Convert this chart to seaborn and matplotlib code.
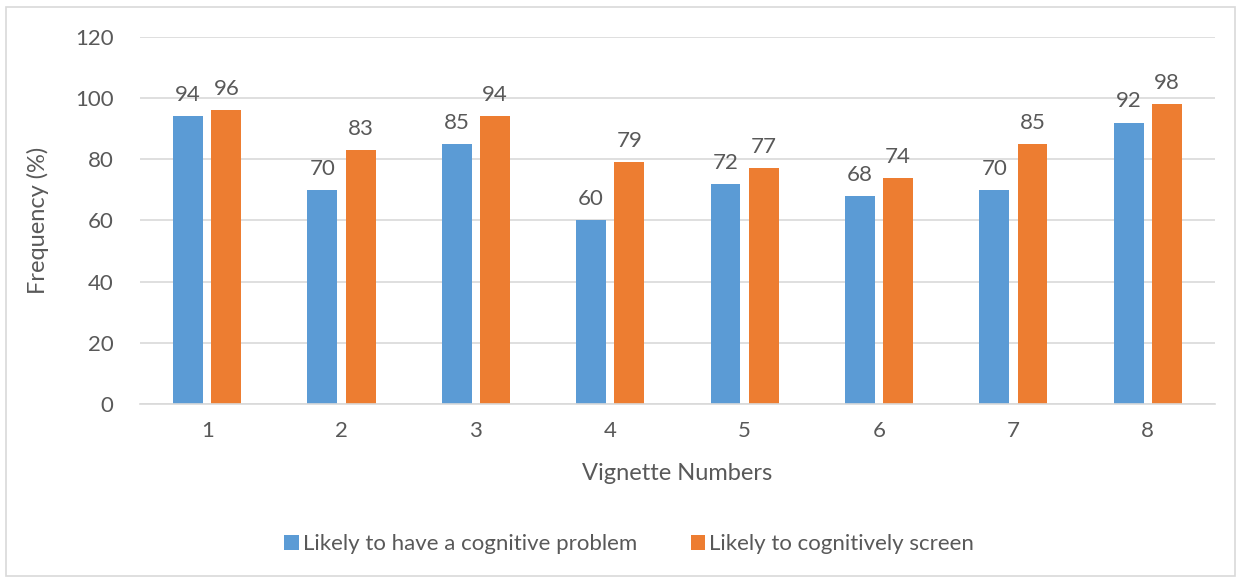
import pandas as pd
import seaborn as sns
import matplotlib.pyplot as plt
from matplotlib.patches import Rectangle

# chart data
vignettes = ['1', '2', '3', '4', '5', '6', '7', '8']
series_names = ['Likely to have a cognitive problem', 'Likely to cognitively screen']
problem = [94, 70, 85, 60, 72, 68, 70, 92]
screen = [96, 83, 94, 79, 77, 74, 85, 98]
colors = ['#5B9BD5', '#ED7D31']
yticks = [0, 20, 40, 60, 80, 100, 120]

text_color = '#595959'

df = pd.DataFrame({
    'Vignette': vignettes * 2,
    'Series': [series_names[0]] * len(vignettes) + [series_names[1]] * len(vignettes),
    'Value': problem + screen,
})

sns.set_theme(style='white')
plt.rcParams['font.family'] = ['Lato', 'DejaVu Sans']

fig = plt.figure(figsize=(12.41, 5.79), dpi=100)
ax = fig.add_axes([0.1128, 0.3023, 0.8662, 0.6339])

sns.barplot(data=df, x='Vignette', y='Value', hue='Series', palette=colors,
            width=0.57, gap=0.22, saturation=1, linewidth=0, ax=ax, legend=True)

for cont in ax.containers:
    ax.bar_label(cont, labels=[f'{int(v)}' for v in cont.datavalues],
                 padding=8, fontsize=16, color=text_color)

ax.set_ylim(0, 120)
ax.set_yticks(yticks)
ax.set_xlim(-0.5, len(vignettes) - 0.5)
ax.yaxis.grid(True, color='#D9D9D9', linewidth=1.2)
ax.set_axisbelow(True)
for s in ['top', 'right', 'left']:
    ax.spines[s].set_visible(False)
ax.spines['bottom'].set_color('#D9D9D9')
ax.spines['bottom'].set_linewidth(1.2)
ax.tick_params(axis='both', length=0, labelsize=16, labelcolor=text_color)
ax.tick_params(axis='y', pad=19)
ax.tick_params(axis='x', pad=12)
ax.set_xlabel('Vignette Numbers', fontsize=17, color=text_color, labelpad=16)
ax.set_ylabel('Frequency (%)', fontsize=17, color=text_color, labelpad=19)

leg = ax.legend(loc='center', bbox_to_anchor=(0.507, 0.06), bbox_transform=fig.transFigure,
                ncol=2, frameon=False, fontsize=16, handlelength=0.65, handleheight=0.65,
                handletextpad=0.2, columnspacing=2.4)
for t in leg.get_texts():
    t.set_color(text_color)

# chart area border
fig.patches.append(Rectangle((0.005, 0.005), 0.99, 0.983, transform=fig.transFigure,
                             fill=False, edgecolor='#D9D9D9', linewidth=1.2))

fig.savefig('out.png', dpi=100)
